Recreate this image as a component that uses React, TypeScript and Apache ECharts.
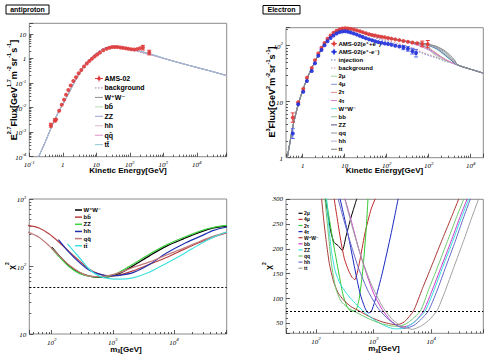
import React, { useEffect, useRef } from 'react';
import * as echarts from 'echarts';

// ================= antiproton (top-left) =================
const apE = [0.44, 0.58, 0.63, 0.78, 0.93, 1.09, 1.25, 1.46, 1.72, 2.06, 2.48, 2.98, 3.57, 4.3, 5.2, 6.2, 7.4, 8.9, 10.7, 12.9, 16.2, 20.4, 25, 30, 36, 43, 52, 62, 75, 90, 110, 135, 165, 200, 245, 380];
const apF = [0.0019, 0.003, 0.0033, 0.0075, 0.013, 0.021, 0.033, 0.052, 0.08, 0.12, 0.17, 0.25, 0.34, 0.47, 0.62, 0.78, 0.98, 1.2, 1.45, 1.75, 2.15, 2.5, 2.75, 2.9, 2.95, 2.9, 2.8, 2.7, 2.6, 2.5, 2.35, 2.3, 2.4, 2.6, 2.8, 1.75];
const apBarE = [0.44, 0.58, 245, 380];
const apBarLo = [0.0016, 0.0026, 2.2, 1.4];
const apBarHi = [0.0023, 0.0035, 3.4, 2.15];

const apModelE = [0.19, 0.3, 0.5, 0.8, 1.3, 2, 3, 4.1, 6, 8.1, 12, 16, 22, 32, 50, 80, 130, 200, 355, 700, 1500, 4000, 10000, 30000, 78000];
const apLow = [1e-4, 4e-4, 0.0021, 0.0079, 0.026, 0.083, 0.22, 0.44, 0.83, 1.26, 1.9];
const apHigh = [0.87, 0.6, 0.43, 0.29, 0.2];
const apBg = [...apLow, 2.4, 2.8, 2.95, 2.75, 2.4, 2.1, 1.8, 1.48, 1.15, ...apHigh];
const apWW = [...apLow, 2.45, 2.85, 3.0, 2.85, 2.55, 2.25, 1.95, 1.6, 1.2, ...apHigh];
const apBB = [...apLow, 2.4, 2.82, 3.0, 2.82, 2.5, 2.2, 1.9, 1.55, 1.18, ...apHigh];
const apZZ = [...apLow, 2.45, 2.85, 3.0, 2.86, 2.56, 2.26, 1.96, 1.6, 1.2, ...apHigh];
const apHH = [...apLow, 2.42, 2.84, 3.0, 2.84, 2.52, 2.22, 1.92, 1.57, 1.19, ...apHigh];
const apQQ = [...apLow, 2.42, 2.83, 2.98, 2.8, 2.48, 2.18, 1.88, 1.53, 1.17, ...apHigh];
const apTT = [...apLow, 2.45, 2.85, 3.02, 2.88, 2.58, 2.28, 1.98, 1.62, 1.22, ...apHigh];
const apLegend = ['AMS-02', 'background', 'W\u207aW\u207b', 'bb\u0304', 'ZZ', 'hh', 'qq\u0304', 'tt\u0304'];

// ================= electron (top-right) =================
const epE = [0.58, 0.78, 1.03, 1.26, 1.64, 1.96, 2.35, 2.8, 3.3, 3.9, 4.6, 5.4, 6.4, 7.5, 8.8, 10.3, 12, 14, 16.5, 19.5, 23, 27, 32, 38, 45, 53, 63, 75, 90, 108, 130, 160, 200, 250, 320, 410, 530, 700, 950];
const epF = [5.2, 9.8, 16.9, 26.8, 40, 55, 73, 92, 112, 133, 153, 170, 185, 196, 203, 205, 203, 200, 195, 188, 181, 174, 167, 161, 156, 152, 148, 145, 142, 138, 134, 130, 126, 122, 118, 114, 111, 108, 106];
const emE = [0.58, 0.78, 1.03, 1.26, 1.64, 1.96, 2.35, 2.8, 3.3, 3.9, 4.6, 5.4, 6.4, 7.5, 8.8, 10.3, 12, 14, 16.5, 19.5, 23, 27, 32, 38, 45, 53, 63, 75, 90, 108, 130, 160, 200, 250, 320, 410, 500];
const emF = [2.7, 9.0, 15.1, 23.4, 35.5, 48.5, 66, 84, 102, 120, 138, 153, 165, 175, 180, 181, 178, 172, 165, 158, 150, 143, 136, 130, 125, 120, 116, 113, 110, 107, 104, 100, 97, 93, 88, 80, 74];
const epBarE = [0.58, 700, 950];
const epBarLo = [4.3, 96, 92];
const epBarHi = [6.3, 121, 124];
const emBarE = [0.58, 250, 320, 410, 500];
const emBarLo = [2.2, 85, 80, 71, 63];
const emBarHi = [3.3, 101, 97, 90, 86];

const elModelE = [0.43, 0.6, 0.8, 1.0, 1.3, 1.7, 2.2, 3, 4, 5.5, 7.5, 10, 14, 20, 30, 45, 70, 100, 150, 250, 400, 700, 1000, 1500, 2500, 4000, 5000, 8000, 13000, 20000];
const elLow = [1.0, 4.0, 9.5, 16, 27, 42, 62, 96, 135, 172, 196, 204, 198, 186];
const elTail = [45, 40, 35.8, 32.4];
const elInj = [...elLow, 162, 146, 130, 119, 108, 96, 86, 74, 67, 61, 53, 48, ...elTail];
const elBg = [...elLow, 165, 150, 136, 126, 115, 103, 91, 77, 70, 63, 54, 48, ...elTail];
const el2mu = [...elLow, 170, 157, 146, 139, 131, 122, 113, 104, 86, 66, 54, 48, ...elTail];
const el4mu = [...elLow, 170, 157, 146, 139, 131, 122, 112, 100, 88, 72, 56, 48, ...elTail];
const el2tau = [...elLow, 170, 157, 146, 139, 131, 122, 113, 103, 92, 74, 57, 48, ...elTail];
const el4tau = [...elLow, 170, 157, 146, 139, 131, 121, 110, 95, 84, 70, 56, 48, ...elTail];
const elWW = [...elLow, 170, 157, 146, 139, 131, 122, 114, 108, 100, 88, 66, 50, ...elTail];
const elBB = [...elLow, 170, 157, 146, 139, 131, 122, 114, 109, 103, 93, 72, 52, ...elTail];
const elZZ = [...elLow, 170, 157, 146, 139, 131, 122, 114, 108, 101, 90, 68, 50, ...elTail];
const elQQ = [...elLow, 170, 157, 146, 139, 131, 122, 114, 109, 104, 95, 76, 54, ...elTail];
const elHH = [...elLow, 170, 157, 146, 139, 131, 122, 114, 109, 102, 92, 70, 51, ...elTail];
const elTT = [...elLow, 170, 157, 146, 139, 131, 122, 115, 111, 106, 98, 80, 57, ...elTail];
const elLegend = ['AMS-02(e\u207a+e\u207b)', 'AMS-02(e\u207a-e\u207b)', 'injection', 'background', '2\u03bc', '4\u03bc', '2\u03c4', '4\u03c4', 'W\u207aW\u207b', 'bb', 'ZZ', 'qq', 'hh', 'tt'];

// ================= chi2 antiproton (bottom-left) =================
const blWWm = [100, 132, 193, 282, 412, 603, 881, 1288, 2137, 4018, 7568, 14262, 26870, 44500, 73800];
const blWWc = [193, 145, 102, 81, 72, 69, 71, 79, 102, 145, 200, 257, 324, 372, 398];
const blBBm = [41, 62, 90, 132, 193, 282, 412, 603, 881, 1288, 2137, 4018, 7568, 14262, 26870, 44500, 73800];
const blBBc = [407, 372, 305, 229, 166, 122, 91, 77, 72, 75, 86, 108, 136, 178, 229, 272, 316];
const blZZm = [100, 132, 193, 282, 412, 603, 881, 1288, 2137, 4018, 7568, 14262, 26870, 44500, 73800];
const blZZc = [186, 140, 99, 79, 72, 70, 72, 83, 108, 153, 209, 269, 335, 380, 407];
const blHHm = [129, 193, 282, 412, 603, 881, 1288, 2137, 4018, 7568, 14262, 26870, 44500, 73800];
const blHHc = [251, 162, 115, 88, 77, 73, 74, 81, 108, 158, 216, 279, 343, 385];
const blQQm = [41, 62, 90, 132, 193, 282, 412, 603, 881, 1288, 2137, 4018, 7568, 14262, 26870, 44500, 73800];
const blQQc = [324, 272, 204, 145, 105, 83, 72, 71, 74, 81, 97, 117, 148, 186, 237, 282, 324];
const blTTm = [181, 282, 412, 603, 881, 1288, 2137, 4018, 7568, 14262, 26870, 44500, 73800];
const blTTc = [216, 136, 91, 72, 66, 65, 68, 83, 112, 153, 216, 272, 324];
const blLimit = 49;
const blLegend = ['W\u207aW\u207b', 'bb\u0304', 'ZZ', 'hh', 'qq\u0304', 'tt\u0304'];

// ================= chi2 electron (bottom-right) =================
const br2muM = [140, 160, 180, 205, 240, 285, 330, 400, 520];
const br2muC = [310, 270, 235, 213, 207, 197, 225, 262, 305];
const br4muM = [200, 230, 265, 310, 370, 420, 470, 560, 700, 900, 1100];
const br4muC = [310, 265, 220, 180, 155, 143, 138, 170, 230, 280, 305];
const br2tauM = [145, 170, 200, 240, 290, 340, 400, 480, 560, 650, 740, 800];
const br2tauC = [310, 260, 210, 160, 110, 85, 75, 75, 100, 160, 240, 305];
const br4tauM = [250, 300, 380, 470, 580, 700, 800, 900, 1050, 1400, 2000, 2700];
const br4tauC = [310, 270, 215, 160, 110, 82, 71, 73, 95, 150, 230, 305];
const brWWm = [120, 135, 150, 170, 200, 240, 300, 400, 580, 900, 1400, 1940, 2530, 3400, 4900, 7000, 10000, 15000, 22000, 29800, 33000];
const brWWc = [320, 260, 215, 170, 135, 112, 97, 84, 74, 62, 53, 49, 47, 53, 75, 120, 164, 215, 262, 300, 315];
const brBBm = [300, 400, 550, 750, 1000, 1400, 2000, 2900, 4000, 5500, 7330, 10000, 15000, 22000, 31000, 41600, 45000];
const brBBc = [310, 260, 200, 150, 110, 78, 55, 43, 45, 56, 75, 112, 165, 215, 262, 300, 312];
const brZZm = [150, 165, 185, 215, 260, 340, 480, 700, 1000, 1500, 2300, 3300, 5000, 7830, 11000, 16000, 24000, 33000, 44500, 48000];
const brZZc = [310, 250, 195, 155, 130, 110, 90, 72, 58, 46, 39, 40, 52, 75, 115, 165, 218, 262, 300, 310];
const brQQm = [140, 160, 185, 220, 270, 350, 500, 800, 1300, 2000, 2800, 4000, 6460, 9000, 13000, 19000, 27000, 36400, 40000];
const brQQc = [310, 240, 170, 120, 95, 82, 72, 60, 50, 45, 44, 52, 75, 118, 165, 215, 262, 300, 315];
const brHHm = [230, 300, 400, 550, 800, 1200, 1800, 2600, 3500, 5000, 6500, 8900, 12500, 18000, 26000, 36000, 47500, 52000];
const brHHc = [310, 260, 210, 160, 115, 80, 58, 45, 40, 46, 57, 75, 115, 165, 215, 262, 300, 312];
const brTTm = [300, 400, 600, 900, 1400, 2100, 3200, 4700, 6500, 9000, 12500, 17000, 25000, 36000, 50000, 66000, 72000];
const brTTc = [310, 255, 185, 130, 85, 58, 43, 38, 44, 56, 75, 112, 165, 215, 262, 300, 312];
const brLimit = 74;
const brLegend = ['2\u03bc', '4\u03bc', '2\u03c4', '4\u03c4', 'W\u207aW\u207b', 'bb', 'ZZ', 'qq', 'hh', 'tt'];

// ================= helpers =================
const SERIF = '"Liberation Serif", "DejaVu Serif", serif';
const SANS = '"Liberation Sans", Arial, "DejaVu Sans", sans-serif';

const zip = (xs: number[], ys: number[]) => xs.map((x, i) => [x, ys[i]]);
const zip3 = (xs: number[], a: number[], b: number[]) => xs.map((x, i) => [x, a[i], b[i]]);

const labelRich = {
  b: { fontSize: 7, lineHeight: 9, verticalAlign: 'bottom', fontStyle: 'italic', fontFamily: SERIF, color: '#000' },
  e: { fontSize: 5, lineHeight: 5, verticalAlign: 'top', fontStyle: 'italic', fontFamily: SERIF, color: '#000' },
};

function powFmt(v: number) {
  const l = Math.log10(v);
  const e = Math.round(l);
  if (Math.abs(l - e) > 1e-6) return '';
  if (e === 0) return '{b|1}';
  if (e === 1) return '{b|10}';
  return `{b|10}{e|${e}}`;
}

function axisBase(gi: number) {
  return {
    gridIndex: gi,
    axisLine: { show: false },
    axisTick: { show: true, inside: true, length: 4, lineStyle: { color: '#333', width: 0.8 } },
    minorTick: { show: true, splitNumber: 9, length: 2, lineStyle: { color: '#333', width: 0.8 } },
    splitLine: { show: false },
    minorSplitLine: { show: false },
    axisLabel: {
      color: '#000', fontSize: 7, fontFamily: SERIF, fontStyle: 'italic', margin: 3,
      formatter: powFmt, rich: labelRich, hideOverlap: false, showMinLabel: true, showMaxLabel: true,
    },
  };
}
function logAxis(gi: number, min: number, max: number) {
  return { ...axisBase(gi), type: 'log', logBase: 10, min, max };
}

function line(gi: number, xs: number[], ys: number[], color: string, width = 1, dash: any = 'solid', smooth: number | boolean = 0.3) {
  return {
    type: 'line', xAxisIndex: gi, yAxisIndex: gi, data: zip(xs, ys), showSymbol: false, symbol: 'none',
    smooth, silent: true, animation: false, lineStyle: { color, width, type: dash }, itemStyle: { color },
    emphasis: { disabled: true }, z: 2,
  };
}
function scatter(gi: number, xs: number[], ys: number[], color: string, size = 4) {
  return {
    type: 'scatter', xAxisIndex: gi, yAxisIndex: gi, data: zip(xs, ys), symbol: 'circle', symbolSize: size,
    silent: true, itemStyle: { color, opacity: 0.9 }, emphasis: { disabled: true }, z: 4,
  };
}
function errBars(gi: number, xs: number[], lo: number[], hi: number[], color: string) {
  return {
    type: 'custom', xAxisIndex: gi, yAxisIndex: gi, coordinateSystem: 'cartesian2d', silent: true, z: 3,
    data: zip3(xs, lo, hi), encode: { x: 0, y: [1, 2] },
    renderItem: (_p: any, api: any) => {
      const a = api.coord([api.value(0), api.value(1)]);
      const b = api.coord([api.value(0), api.value(2)]);
      return {
        type: 'group', children: [
          { type: 'line', shape: { x1: a[0], y1: a[1], x2: b[0], y2: b[1] }, style: { stroke: color, lineWidth: 1 } },
          { type: 'line', shape: { x1: a[0] - 2, y1: a[1], x2: a[0] + 2, y2: a[1] }, style: { stroke: color, lineWidth: 1 } },
          { type: 'line', shape: { x1: b[0] - 2, y1: b[1], x2: b[0] + 2, y2: b[1] }, style: { stroke: color, lineWidth: 1 } },
        ],
      };
    },
  };
}

function legendEls(x0: number, y0: number, dy: number, len: number, fs: number, labels: string[], styles: any[]) {
  const els: any[] = [];
  labels.forEach((lab, i) => {
    const y = y0 + i * dy;
    const s = styles[i];
    if (s.marker) {
      els.push({ type: 'line', shape: { x1: x0, y1: y, x2: x0 + len, y2: y }, style: { stroke: s.color, lineWidth: 1 } });
      els.push({ type: 'line', shape: { x1: x0 + len / 2, y1: y - 3, x2: x0 + len / 2, y2: y + 3 }, style: { stroke: s.color, lineWidth: 1 } });
      els.push({ type: 'circle', shape: { cx: x0 + len / 2, cy: y, r: 1.8 }, style: { fill: s.color } });
    } else {
      els.push({ type: 'line', shape: { x1: x0, y1: y, x2: x0 + len, y2: y }, style: { stroke: s.color, lineWidth: s.w || 1, lineDash: s.dash || null } });
    }
    els.push({
      type: 'text', x: x0 + len + 1.5, y,
      style: { text: lab, fill: '#000', font: `bold ${fs}px ${SANS}`, align: 'left', verticalAlign: 'middle', textAlign: 'left', textVerticalAlign: 'middle' },
    });
  });
  return els;
}

const supRich = (fs: number) => ({
  n: { fontSize: fs, fontWeight: 'bold', fontFamily: SANS, lineHeight: fs + 3, verticalAlign: 'bottom', color: '#000' },
  s: { fontSize: fs * 0.62, fontWeight: 'bold', fontFamily: SANS, lineHeight: fs * 0.62, verticalAlign: 'top', color: '#000' },
  u: { fontSize: fs * 0.62, fontWeight: 'bold', fontFamily: SANS, lineHeight: fs * 0.62, verticalAlign: 'bottom', color: '#000' },
});

function titleText(x: number, y: number, text: string, fs: number, rot = 0) {
  return {
    type: 'text', x, y, rotation: rot,
    style: { text, rich: supRich(fs), align: 'center', verticalAlign: 'middle', textAlign: 'center', textVerticalAlign: 'middle' },
  };
}

function buildOption() {
  const C = {
    apBg: '#9c80a8', apWW: '#8c8c8c', apBB: '#b8dcb0', apZZ: '#9ea3d0', apHH: '#e0b8d0', apQQ: '#d890c8', apTT: '#8fc4d6',
    red: '#e03a3a', blue: '#1f2fd8',
    inj: '#6878b8', bg: '#c890b0', mu2: '#a8d8a0', mu4: '#8890d0', tau2: '#d89090', tau4: '#d080d0', eWW: '#70e0e0', eBB: '#98c098', eZZ: '#505080', eQQ: '#8898a0', eHH: '#b0b0d0', eTT: '#808080',
    bWW: '#000000', bBB: '#b84040', bZZ: '#40d040', bHH: '#2030b0', bQQ: '#c07878', bTT: '#40e0e0',
    r2mu: '#000000', r4mu: '#c02828', r2tau: '#30c830', r4tau: '#1828c0', rWW: '#a83838', rBB: '#c838c8', rZZ: '#38e0e0', rQQ: '#70c870', rHH: '#6868c8', rTT: '#a0a0a0',
  };

  const series: any[] = [
    // ---- top-left
    line(0, apModelE, apBg, C.apBg, 1, [1.5, 1.5]),
    line(0, apModelE, apWW, C.apWW),
    line(0, apModelE, apBB, C.apBB),
    line(0, apModelE, apZZ, C.apZZ),
    line(0, apModelE, apHH, C.apHH),
    line(0, apModelE, apQQ, C.apQQ),
    line(0, apModelE, apTT, C.apTT),
    errBars(0, apBarE, apBarLo, apBarHi, C.red),
    scatter(0, apE, apF, C.red, 4),
    // ---- top-right
    line(1, elModelE, elInj, C.inj, 1, [1.5, 1.5]),
    line(1, elModelE, elBg, C.bg, 1, [1.5, 1.5]),
    line(1, elModelE, el2mu, C.mu2),
    line(1, elModelE, el4mu, C.mu4),
    line(1, elModelE, el2tau, C.tau2),
    line(1, elModelE, el4tau, C.tau4),
    line(1, elModelE, elWW, C.eWW),
    line(1, elModelE, elBB, C.eBB),
    line(1, elModelE, elZZ, C.eZZ),
    line(1, elModelE, elQQ, C.eQQ),
    line(1, elModelE, elHH, C.eHH),
    line(1, elModelE, elTT, C.eTT),
    errBars(1, epBarE, epBarLo, epBarHi, C.red),
    errBars(1, emBarE, emBarLo, emBarHi, '#5a6ae8'),
    scatter(1, epE, epF, C.red, 4),
    scatter(1, emE, emF, C.blue, 4),
    // ---- bottom-left
    {
      ...line(2, blWWm, blWWc, C.bWW, 1.3),
      markLine: { silent: true, symbol: 'none', animation: false, label: { show: false }, lineStyle: { color: '#000', width: 1, type: [2, 2] }, data: [{ yAxis: blLimit }] },
    },
    line(2, blBBm, blBBc, C.bBB, 1.2),
    line(2, blZZm, blZZc, C.bZZ, 1.2),
    line(2, blHHm, blHHc, C.bHH, 1.2),
    line(2, blQQm, blQQc, C.bQQ, 1.2),
    line(2, blTTm, blTTc, C.bTT, 1.2),
    // ---- bottom-right
    {
      ...line(3, br2muM, br2muC, C.r2mu, 1, 'solid', 0.2),
      markLine: { silent: true, symbol: 'none', animation: false, label: { show: false }, lineStyle: { color: '#000', width: 1, type: [2, 2] }, data: [{ yAxis: brLimit }] },
    },
    line(3, br4muM, br4muC, C.r4mu, 1, 'solid', 0.2),
    line(3, br2tauM, br2tauC, C.r2tau, 1, 'solid', 0.2),
    line(3, br4tauM, br4tauC, C.r4tau, 1, 'solid', 0.2),
    line(3, brWWm, brWWc, C.rWW, 1, 'solid', 0.2),
    line(3, brBBm, brBBc, C.rBB, 1, 'solid', 0.2),
    line(3, brZZm, brZZc, C.rZZ, 1, 'solid', 0.2),
    line(3, brQQm, brQQc, C.rQQ, 1, 'solid', 0.2),
    line(3, brHHm, brHHc, C.rHH, 1, 'solid', 0.2),
    line(3, brTTm, brTTc, C.rTT, 1, 'solid', 0.2),
  ];

  const gridBase = { show: true, borderColor: '#8a8a8a', borderWidth: 1, backgroundColor: 'transparent', containLabel: false, outerBoundsMode: 'none' };

  const brY = {
    ...axisBase(3), type: 'value', min: 30, max: 300, splitNumber: 5,
    minorTick: { show: true, splitNumber: 5, length: 2, lineStyle: { color: '#333', width: 0.8 } },
    axisLabel: { color: '#000', fontSize: 7, fontFamily: SERIF, fontStyle: 'italic', margin: 3, hideOverlap: false, formatter: (v: number) => (v % 50 === 0 ? String(v) : '') },
  };

  const graphic: any[] = [
    // panel title boxes
    { type: 'rect', shape: { x: 6, y: 5, width: 43, height: 9 }, style: { fill: '#fff', stroke: '#000', lineWidth: 1 } },
    { type: 'text', x: 27.5, y: 9.7, style: { text: 'antiproton', font: `bold 7px ${SANS}`, fill: '#000', align: 'center', verticalAlign: 'middle', textAlign: 'center', textVerticalAlign: 'middle' } },
    { type: 'rect', shape: { x: 263, y: 5.5, width: 37, height: 8.5 }, style: { fill: '#fff', stroke: '#000', lineWidth: 1 } },
    { type: 'text', x: 281.5, y: 9.9, style: { text: 'Electron', font: `bold 7px ${SANS}`, fill: '#000', align: 'center', verticalAlign: 'middle', textAlign: 'center', textVerticalAlign: 'middle' } },
    // axis titles
    titleText(128, 169, '{n|Kinetic Energy[GeV]}', 8),
    titleText(12, 90, '{n|E}{s|2.7}{n|Flux[GeV}{s|1.7}{n|m}{s|-2}{n|sr}{s|-1}{n|s}{s|-1}{n|]}', 9, Math.PI / 2),
    titleText(384.5, 169, '{n|Kinetic Energy[GeV]}', 8),
    titleText(270.5, 92, '{n|E}{s|3}{n|Flux[GeV}{s|2}{n|m}{s|-2}{n|sr}{s|-1}{n|s}{s|-1}{n|]}', 9, Math.PI / 2),
    titleText(126, 347.5, '{n|m}{u|\u03c7}{n|[GeV]}', 8),
    titleText(10, 266, '{n|\u03c7}{s|2}', 8, Math.PI / 2),
    titleText(384, 347, '{n|m}{u|\u03c7}{n|[GeV]}', 8),
    titleText(267, 266, '{n|\u03c7}{s|2}', 8, Math.PI / 2),
    // legends
    ...legendEls(95, 78.5, 9.45, 8, 7, apLegend, [
      { marker: true, color: C.red }, { color: C.apBg, dash: [1.5, 1.5] }, { color: C.apWW }, { color: C.apBB }, { color: C.apZZ }, { color: C.apHH }, { color: C.apQQ }, { color: C.apTT },
    ]),
    ...legendEls(331, 43.7, 8.12, 6, 6, elLegend, [
      { marker: true, color: C.red }, { marker: true, color: C.blue }, { color: C.inj, dash: [1.5, 1.5] }, { color: C.bg, dash: [1.5, 1.5] },
      { color: C.mu2 }, { color: C.mu4 }, { color: C.tau2 }, { color: C.tau4 }, { color: C.eWW }, { color: C.eBB }, { color: C.eZZ }, { color: C.eQQ }, { color: C.eHH }, { color: C.eTT },
    ]),
    ...legendEls(75, 210, 7.15, 7, 6, blLegend, [
      { color: C.bWW, w: 1.5 }, { color: C.bBB, w: 1.5 }, { color: C.bZZ, w: 1.5 }, { color: C.bHH, w: 1.5 }, { color: C.bQQ, w: 1.5 }, { color: C.bTT, w: 1.5 },
    ]),
    ...legendEls(298.5, 213.3, 6.1, 4, 5, brLegend, [
      { color: C.r2mu, w: 1.2 }, { color: C.r4mu, w: 1.2 }, { color: C.r2tau, w: 1.2 }, { color: C.r4tau, w: 1.2 }, { color: C.rWW, w: 1.2 },
      { color: C.rBB, w: 1.2 }, { color: C.rZZ, w: 1.2 }, { color: C.rQQ, w: 1.2 }, { color: C.rHH, w: 1.2 }, { color: C.rTT, w: 1.2 },
    ]),
  ];

  return {
    animation: false,
    backgroundColor: '#fff',
    grid: [
      { ...gridBase, left: 29.3, top: 23.3, width: 197.4, height: 133.4 },
      { ...gridBase, left: 286, top: 27.7, width: 197.3, height: 130 },
      { ...gridBase, left: 29.3, top: 199, width: 197.4, height: 135 },
      { ...gridBase, left: 286, top: 199.3, width: 197.3, height: 134 },
    ],
    xAxis: [logAxis(0, 0.1, 78000), logAxis(1, 0.4, 20000), logAxis(2, 43, 73000), logAxis(3, 30, 80000)],
    yAxis: [logAxis(0, 1e-4, 27), logAxis(1, 1, 210), logAxis(2, 10, 1000), brY],
    series,
    graphic,
  };
}

export default function App() {
  const ref = useRef<HTMLDivElement>(null);
  useEffect(() => {
    if (!ref.current) return;
    const chart = echarts.init(ref.current, null, { renderer: 'svg' });
    chart.setOption(buildOption() as any);
    return () => chart.dispose();
  }, []);
  return <div ref={ref} style={{ position: 'fixed', left: 0, top: 0, width: 500, height: 355, background: '#fff' }} />;
}
